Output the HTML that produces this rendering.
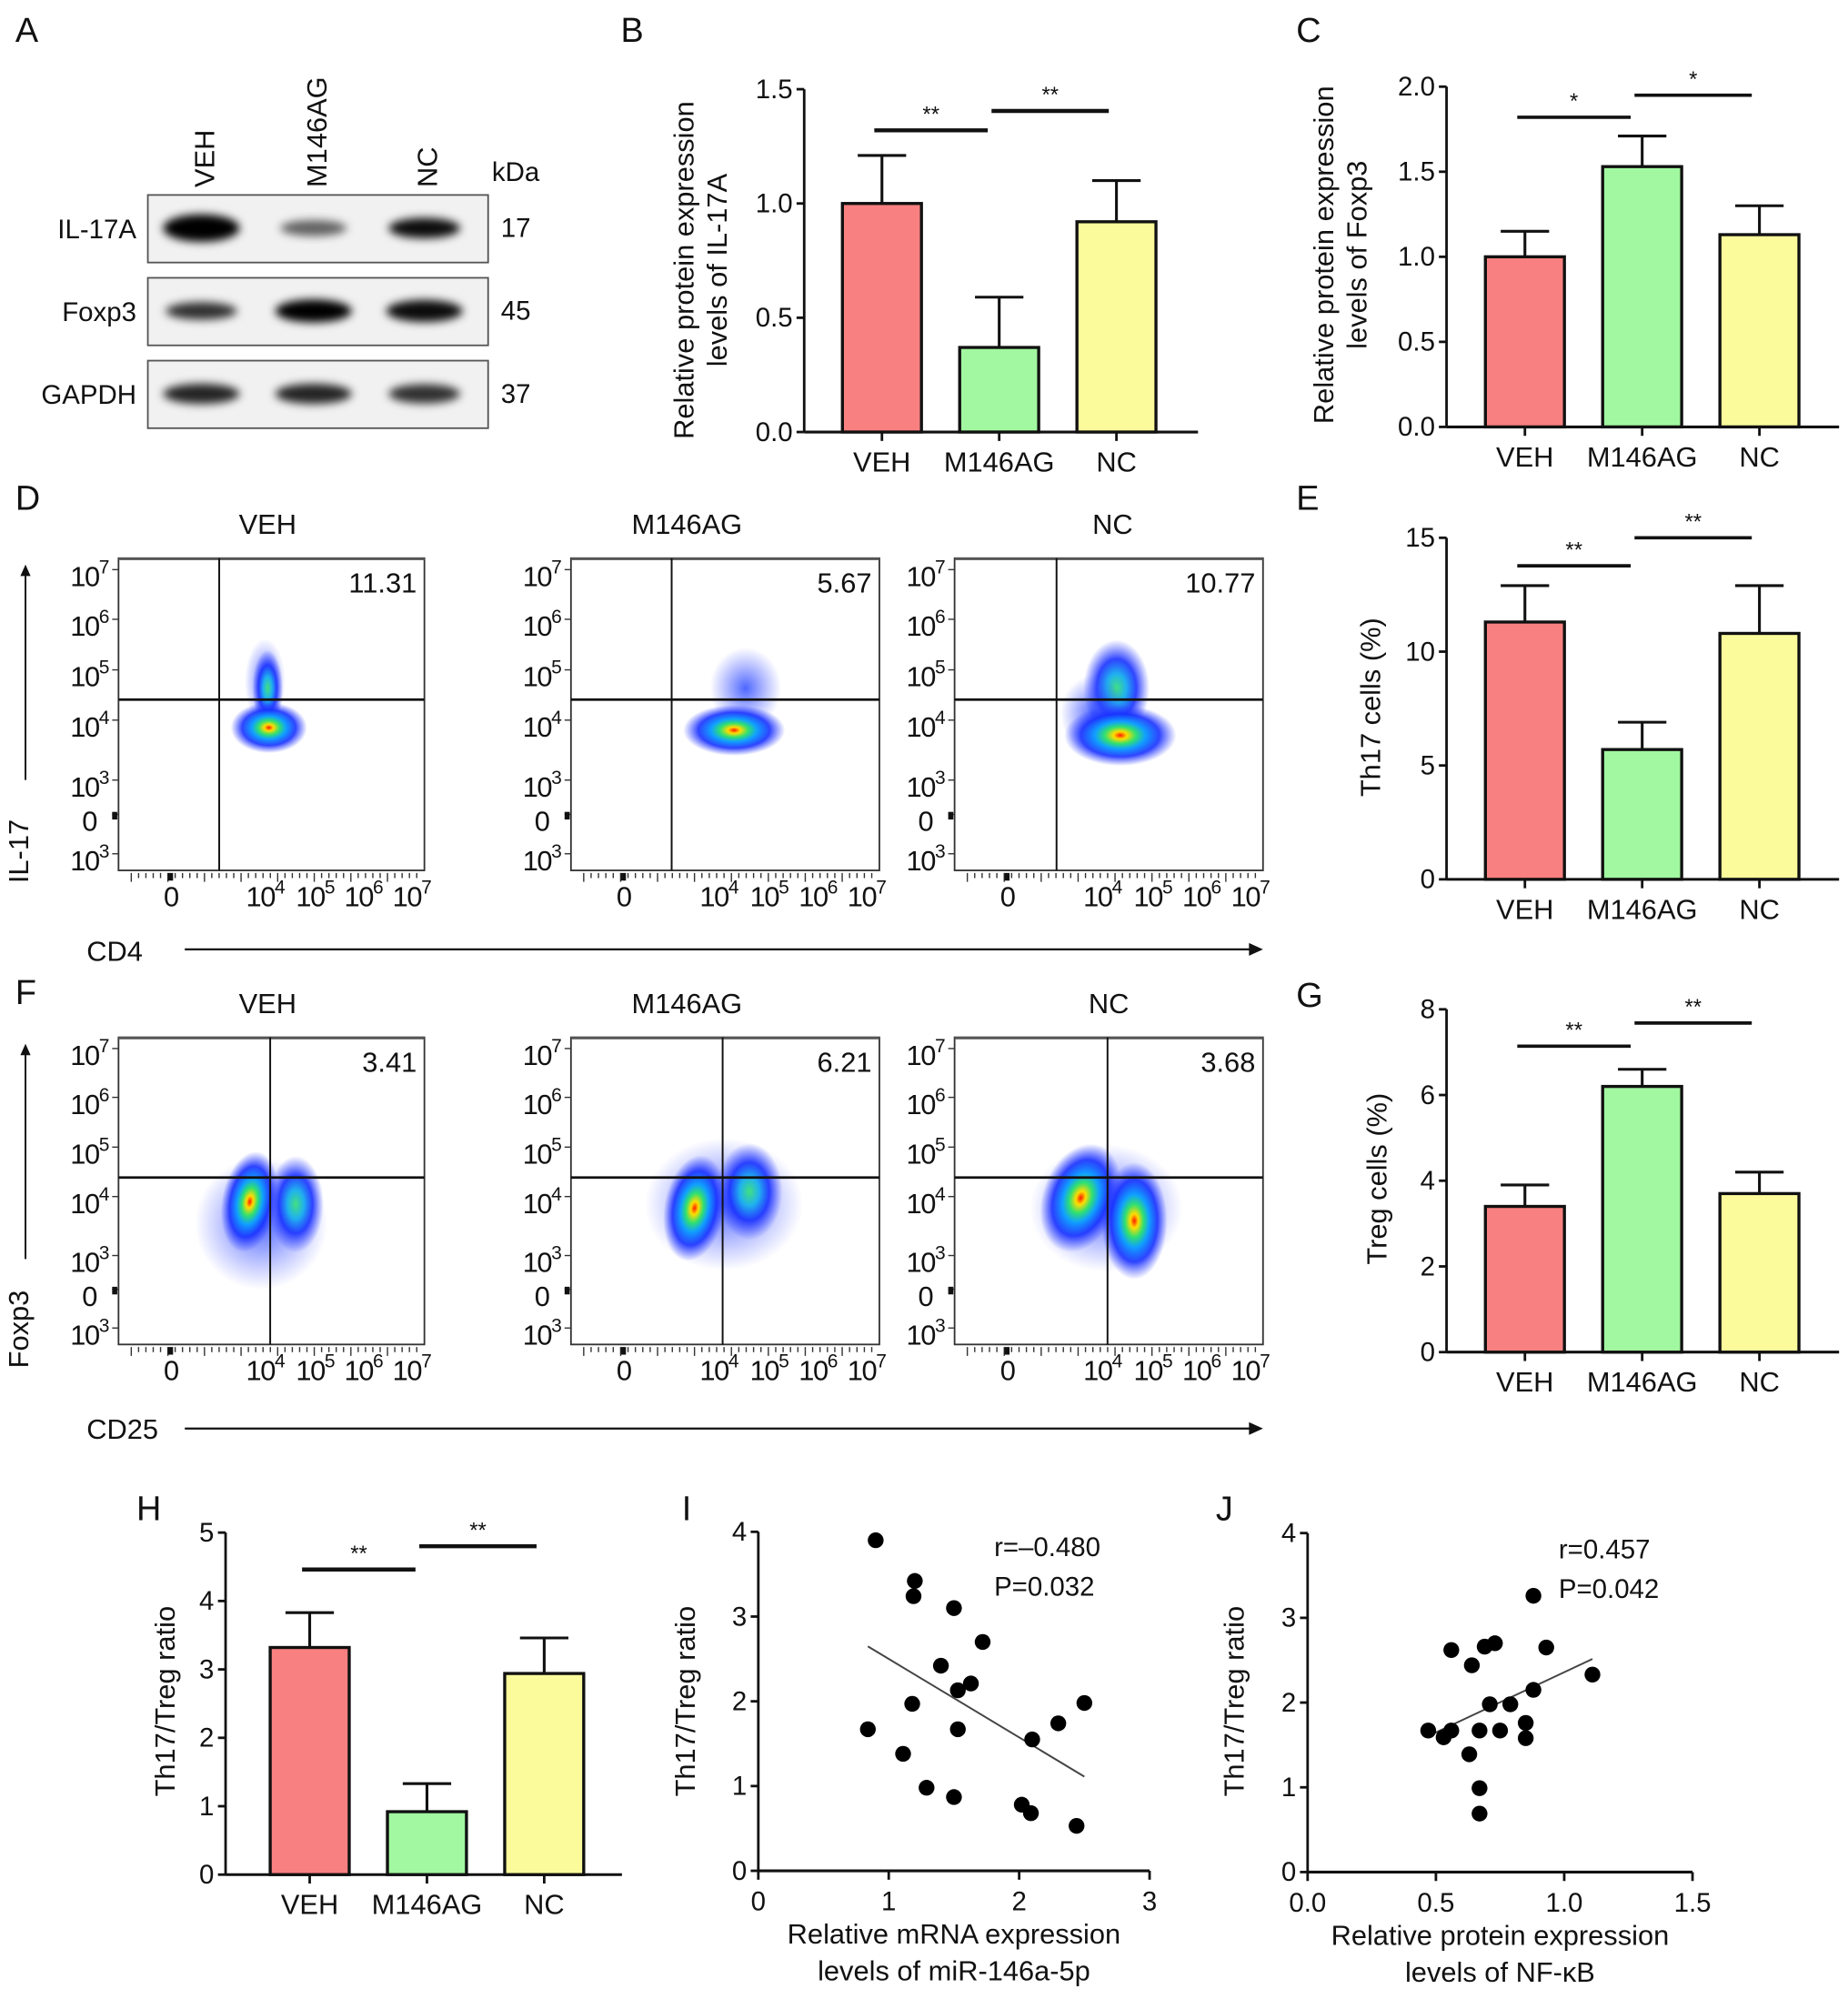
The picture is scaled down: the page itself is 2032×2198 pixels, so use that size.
<!DOCTYPE html>
<html><head><meta charset="utf-8">
<style>
html,body{margin:0;padding:0;background:#fff;}
svg{display:block;}
text{font-family:"Liberation Sans",Arial,sans-serif;fill:#111;}
</style></head>
<body>
<svg id="fig" xmlns="http://www.w3.org/2000/svg" width="2032" height="2198" viewBox="0 0 1450 1568.6" preserveAspectRatio="none">
<defs>
<radialGradient id="densR" cx="50%" cy="50%" r="50%">
<stop offset="0" stop-color="#ff1a00"/><stop offset="0.12" stop-color="#ffdd00"/><stop offset="0.28" stop-color="#30e070"/><stop offset="0.45" stop-color="#10a0ff"/><stop offset="0.7" stop-color="#1830ff" stop-opacity="0.9"/><stop offset="1" stop-color="#3040ff" stop-opacity="0"/>
</radialGradient>
<radialGradient id="densG" cx="50%" cy="50%" r="50%">
<stop offset="0" stop-color="#40e080"/><stop offset="0.3" stop-color="#20b0f0"/><stop offset="0.6" stop-color="#1830ff" stop-opacity="0.9"/><stop offset="1" stop-color="#3040ff" stop-opacity="0"/>
</radialGradient>
<radialGradient id="densB" cx="50%" cy="50%" r="50%">
<stop offset="0" stop-color="#2040ff" stop-opacity="0.8"/><stop offset="1" stop-color="#4050ff" stop-opacity="0"/>
</radialGradient>
<filter id="blur" x="-50%" y="-50%" width="200%" height="200%"><feGaussianBlur stdDeviation="3.5"/></filter>
</defs>
<g id="root"></g>
</svg>
<script>
// ---------------- data ----------------
var groups = ["VEH","M146AG","NC"];
var bValues = [1.0, 0.37, 0.92];
var bErrors = [1.21, 0.59, 1.10];
var cValues = [1.0, 1.53, 1.13];
var cErrors = [1.15, 1.71, 1.30];
var eValues = [11.3, 5.7, 10.8];
var eErrors = [12.9, 6.9, 12.9];
var gValues = [3.4, 6.2, 3.7];
var gErrors = [3.9, 6.6, 4.2];
var hValues = [3.32, 0.92, 2.94];
var hErrors = [3.83, 1.33, 3.46];
var bTicks = ["0.0","0.5","1.0","1.5"];
var cTicks = ["0.0","0.5","1.0","1.5","2.0"];
var eTicks = ["0","5","10","15"];
var gTicks = ["0","2","4","6","8"];
var hTicks = ["0","1","2","3","4","5"];
var iX = [0.9,1.2,1.19,1.5,1.72,1.40,1.63,1.53,1.18,2.5,0.84,1.53,2.30,2.10,1.11,1.29,1.50,2.02,2.09,2.44];
var iY = [3.9,3.42,3.24,3.1,2.7,2.42,2.21,2.13,1.97,1.98,1.67,1.67,1.74,1.55,1.38,0.98,0.87,0.78,0.68,0.53];
var jX = [0.88,0.73,0.69,0.56,0.93,0.64,1.11,0.88,0.71,0.79,0.47,0.56,0.67,0.75,0.85,0.85,0.53,0.63,0.67,0.67];
var jY = [3.26,2.70,2.66,2.62,2.65,2.44,2.33,2.15,1.98,1.98,1.67,1.67,1.67,1.67,1.76,1.58,1.59,1.39,0.99,0.69];
var iTicksX = ["0","1","2","3"];
var jTicksX = ["0.0","0.5","1.0","1.5"];
var corrTicksY = ["0","1","2","3","4"];
var th17Pct = ["11.31","5.67","10.77"];
var tregPct = ["3.41","6.21","3.68"];

// ---------------- helpers ----------------
var NS="http://www.w3.org/2000/svg";
var root=document.getElementById('root');
function el(tag, attrs, parent, txt){
  var e=document.createElementNS(NS,tag);
  for(var k in attrs) e.setAttribute(k, attrs[k]);
  if(txt!==undefined) e.textContent=txt;
  (parent||root).appendChild(e);
  return e;
}
function grp(name, parent){
  var g=el('g',{},parent);
  
  
  return g;
}
function txt(s,x,y,size,anchor,parent,name){
  var t=el('text',{x:x,y:y,'font-size':size,'text-anchor':anchor||'start'},parent,s);
  
  
  return t;
}
function rtxt(s,cx,cy,size,parent,name){
  var t=el('text',{x:0,y:0,'font-size':size,'text-anchor':'middle',transform:'translate('+cx+','+cy+') rotate(-90)'},parent,s);
  
  
  return t;
}

var letters=[["A",12,33],["B",487,33],["C",1017,33],["D",12,400],["E",1017,400],["F",12,788],["G",1017,790],["H",107,1193],["I",535,1193],["J",954,1193]];
letters.forEach(function(l){ txt(l[0],l[1],l[2],27,'start',root,'panel-label-'+l[0].toLowerCase()); });

// ---------------- Panel A: western blot ----------------
(function(){
  var g=grp('western-blot');
  var lanes=[160,248,335];
  groups.forEach(function(n,i){
    var t=el('text',{x:0,y:0,'font-size':22,transform:'translate('+(lanes[i]+8)+',147) rotate(-90)'},g,n);
    
    
  });
  txt('kDa',386,142,21,'start',g,'kda-label');
  var rows=[["IL-17A",153,"17",[[1,1.25,30],[0.6,0.6,26],[0.95,0.85,28]]],["Foxp3",218,"45",[[0.8,0.7,28],[1,1.0,30],[0.95,0.95,30]]],["GAPDH",283,"37",[[0.85,0.85,30],[0.85,0.85,30],[0.8,0.8,28]]]];
  rows.forEach(function(r){
    var rg=grp('blot-row-'+r[0].toLowerCase(),g);
    el('rect',{x:116,y:r[1],width:267,height:53,fill:'#f1f1f1',stroke:'#555','stroke-width':1.3},rg);
    txt(r[0],107,r[1]+34,21,'end',rg,'protein-label');
    txt(r[2],393,r[1]+33,21,'start',rg,'kda-value');
    r[3].forEach(function(b,i){
      var e=el('ellipse',{cx:lanes[i]-2,cy:r[1]+26,rx:b[2],ry:7*b[1]+2,fill:'#000','fill-opacity':b[0],filter:'url(#blur)'},rg);
      
      
    });
  });
})();

// ---------------- bar charts ----------------
function barChart(o){
  var g=grp(o.name);
  var colors=['#f98080','#a2f8a0','#fbfb9c'];
  function ys(v){ return o.y0 - (v-o.min)/(o.max-o.min)*(o.y0-o.y1); }
  var n=o.ticks.length;
  el('line',{x1:o.ax,y1:o.y1,x2:o.ax,y2:o.y0,stroke:'#111','stroke-width':2},g);
  el('line',{x1:o.ax,y1:o.y0,x2:o.xEnd,y2:o.y0,stroke:'#111','stroke-width':2.2},g);
  o.ticks.forEach(function(t,i){
    var v=o.min+(o.max-o.min)*i/(n-1), y=ys(v);
    el('line',{x1:o.ax-6,y1:y,x2:o.ax,y2:y,stroke:'#111','stroke-width':2},g);
    txt(t,o.ax-9,y+7,21,'end',g,'y-tick-label');
  });
  groups.forEach(function(name,i){
    var cx=o.ax+o.first+o.step*i, w=62;
    var b=el('rect',{x:cx-w/2,y:ys(o.values[i]),width:w,height:o.y0-ys(o.values[i]),fill:colors[i],stroke:'#111','stroke-width':2.4},g);
    
    
    var eb=el('path',{d:'M'+cx+','+ys(o.values[i])+'V'+ys(o.errors[i])+'M'+(cx-19)+','+ys(o.errors[i])+'H'+(cx+19),stroke:'#111','stroke-width':2.2,fill:'none'},g);
    
    
    el('line',{x1:cx,y1:o.y0,x2:cx,y2:o.y0+7,stroke:'#111','stroke-width':2},g);
    txt(name,cx,o.y0+31,22,'middle',g,'x-tick-label');
  });
  o.sig.forEach(function(s){
    var xa=o.ax+o.first+o.step*s[0]-6, xb=o.ax+o.first+o.step*s[1]-6+ (s[0]==0?-3:0);
    var y=ys(s[2]);
    var l=el('line',{x1:xa,y1:y,x2:xb,y2:y,stroke:'#111','stroke-width':o.sigW},g);
    
    
    txt(s[3],(xa+xb)/2,y-7,17,'middle',g,'significance-stars');
  });
  if(o.title.length==2){ rtxt(o.title[0],o.tx,o.tcy,22,g); rtxt(o.title[1],o.tx+26,o.tcy,22,g); }
  else rtxt(o.title[0],o.tx,o.tcy,22,g);
}
barChart({name:'chart-b-il17a',ax:631,xEnd:940,first:61,step:92,y0:339,y1:70,min:0,max:1.5,ticks:bTicks,values:bValues,errors:bErrors,sig:[[0,1,1.32,'**'],[1,2,1.405,'**']],sigW:3.2,title:['Relative protein expression','levels of IL-17A'],tx:544,tcy:212});
barChart({name:'chart-c-foxp3',ax:1135,xEnd:1443,first:61.5,step:92,y0:335,y1:68,min:0,max:2,ticks:cTicks,values:cValues,errors:cErrors,sig:[[0,1,1.82,'*'],[1,2,1.95,'*']],sigW:2.6,title:['Relative protein expression','levels of Foxp3'],tx:1046,tcy:200});
barChart({name:'chart-e-th17',ax:1135,xEnd:1443,first:61.5,step:92,y0:690,y1:422,min:0,max:15,ticks:eTicks,values:eValues,errors:eErrors,sig:[[0,1,13.77,'**'],[1,2,15,'**']],sigW:2.6,title:['Th17 cells (%)'],tx:1083,tcy:555});
barChart({name:'chart-g-treg',ax:1135,xEnd:1443,first:61.5,step:92,y0:1061,y1:792,min:0,max:8,ticks:gTicks,values:gValues,errors:gErrors,sig:[[0,1,7.14,'**'],[1,2,7.68,'**']],sigW:2.6,title:['Treg cells (%)'],tx:1088,tcy:925});
barChart({name:'chart-h-ratio',ax:177,xEnd:488,first:66,step:92,y0:1471,y1:1202.6,min:0,max:5,ticks:hTicks,values:hValues,errors:hErrors,sig:[[0,1,4.46,'**'],[1,2,4.8,'**']],sigW:3.2,title:['Th17/Treg ratio'],tx:137,tcy:1335});

// ---------------- flow cytometry ----------------
function sup(parent,x,y,base,exp,name){
  var t=el('text',{x:x,y:y,'font-size':22,'text-anchor':'middle','letter-spacing':'-1'},parent);
  
  
  el('tspan',{},t,base);
  if(exp){ el('tspan',{'font-size':15,dy:-10},t,exp); }
  return t;
}
function flowPlot(o){
  var g=grp(o.name);
  var x=o.x,y=o.y,w=o.w,h=o.h;
  o.blobs.forEach(function(b){
    var e=el('ellipse',{cx:b[0],cy:b[1],rx:b[2],ry:b[3],fill:'url(#'+b[4]+')',transform:'rotate('+(b[5]||0)+','+b[0]+','+b[1]+')'},g);
    
    
  });
  el('rect',{x:x,y:y,width:w,height:h,fill:'none',stroke:'#333','stroke-width':1.3},g);
  el('line',{x1:x,y1:y+0.5,x2:x+w,y2:y+0.5,stroke:'#555','stroke-width':2},g);
  el('line',{x1:o.gx,y1:y,x2:o.gx,y2:y+h,stroke:'#111','stroke-width':1.4},g);
  el('line',{x1:x,y1:o.gy,x2:x+w,y2:o.gy,stroke:'#111','stroke-width':2},g);
  txt(o.title,x+w/2+(o.tdx||0),y-19,22,'middle',g,'plot-title');
  txt(o.pct,x+w-6,y+27,22,'end',g,'quadrant-percentage');
  var yf=[[0.053,'10','7'],[0.212,'10','6'],[0.374,'10','5'],[0.535,'10','4'],[0.727,'10','3'],[0.837,'0',''],[0.963,'10','3']];
  yf.forEach(function(t){
    var yy=y+t[0]*h;
    el('line',{x1:x-5,y1:yy-4,x2:x,y2:yy-4,stroke:'#333','stroke-width':1},g);
    sup(g,x-23,yy+9,t[1],t[2],'y-tick-label');
  });
  el('rect',{x:x-5,y:y+0.837*h-6,width:4,height:6,fill:'#111'},g);
  var xf=[[0.171,'0',''],[0.479,'10','4'],[0.642,'10','5'],[0.8,'10','6'],[0.958,'10','7']];
  xf.forEach(function(t){ sup(g,x+t[0]*w,y+h+28,t[1],t[2],'x-tick-label'); });
  var d='';
  for(var k=0;k<40;k++){ var xx=x+10+k*(w-16)/39; d+='M'+xx+','+(y+h+2)+'v'+(k%5==0?7:4); }
  el('path',{d:d,stroke:'#333','stroke-width':1},g);
  el('rect',{x:x+0.17*w-2,y:y+h+2,width:4,height:6,fill:'#111'},g);
}
flowPlot({name:'flow-d-veh',x:93,y:438,w:240,h:245,gx:172,gy:549,title:'VEH',pct:th17Pct[0],tdx:-3,
  blobs:[[208,535,16,34,'densB'],[210,540,12,30,'densG'],[211,571,30,20,'densR']]});
flowPlot({name:'flow-d-m146ag',x:448,y:438,w:242,h:245,gx:527,gy:549,title:'M146AG',pct:th17Pct[1],tdx:-30,
  blobs:[[585,540,28,32,'densB'],[576,573,40,20,'densR']]});
flowPlot({name:'flow-d-nc',x:749,y:438,w:242,h:245,gx:829,gy:549,title:'NC',pct:th17Pct[2],tdx:3,
  blobs:[[876,540,26,38,'densG'],[858,560,26,30,'densB'],[879,577,44,24,'densR']]});
flowPlot({name:'flow-f-veh',x:93,y:814,w:240,h:241,gx:212,gy:924,title:'VEH',pct:tregPct[0],tdx:-3,
  blobs:[[205,960,52,52,'densB'],[196,943,22,40,'densR',10],[232,945,22,38,'densG']]});
flowPlot({name:'flow-f-m146ag',x:448,y:814,w:242,h:241,gx:567,gy:924,title:'M146AG',pct:tregPct[1],tdx:-30,
  blobs:[[568,945,62,52,'densB'],[545,948,24,42,'densR',10],[588,935,26,38,'densG']]});
flowPlot({name:'flow-f-nc',x:749,y:814,w:242,h:241,gx:869,gy:924,title:'NC',pct:tregPct[2],tdx:0,
  blobs:[[868,948,60,50,'densB'],[848,940,30,44,'densR',20],[890,958,26,46,'densR']]});

(function(){
  var g=grp('flow-axis-titles');
  el('path',{d:'M20,612V448',stroke:'#111','stroke-width':1.4},g);
  el('path',{d:'M16,452L20,443L24,452Z',fill:'#111'},g);
  rtxt('IL-17',22,668,22,g,'y-axis-title-il17');
  txt('CD4',68,754,22,'start',g,'x-axis-title-cd4');
  el('path',{d:'M145,745H982',stroke:'#111','stroke-width':1.6},g);
  el('path',{d:'M980,740L991,745L980,750Z',fill:'#111'},g);
  el('path',{d:'M20,988V824',stroke:'#111','stroke-width':1.4},g);
  el('path',{d:'M16,828L20,819L24,828Z',fill:'#111'},g);
  rtxt('Foxp3',22,1043,22,g,'y-axis-title-foxp3');
  txt('CD25',68,1129,22,'start',g,'x-axis-title-cd25');
  el('path',{d:'M145,1121H982',stroke:'#111','stroke-width':1.6},g);
  el('path',{d:'M980,1116L991,1121L980,1126Z',fill:'#111'},g);
})();

// ---------------- scatter plots ----------------
function scatter(o){
  var g=grp(o.name);
  function xs(v){ return o.ax+(v-o.xmin)/(o.xmax-o.xmin)*(o.xr-o.ax); }
  function ys(v){ return o.y0-(v-o.ymin)/(o.ymax-o.ymin)*(o.y0-o.y1); }
  el('line',{x1:o.ax,y1:o.y1,x2:o.ax,y2:o.y0,stroke:'#111','stroke-width':2},g);
  el('line',{x1:o.ax,y1:o.y0,x2:o.xr,y2:o.y0,stroke:'#111','stroke-width':2.2},g);
  o.yt.forEach(function(t,i){
    var y=ys(o.ymin+(o.ymax-o.ymin)*i/(o.yt.length-1));
    el('line',{x1:o.ax-6,y1:y,x2:o.ax,y2:y,stroke:'#111','stroke-width':2},g);
    txt(t,o.ax-9,y+7,21,'end',g,'y-tick-label');
  });
  o.xt.forEach(function(t,i){
    var x=xs(o.xmin+(o.xmax-o.xmin)*i/(o.xt.length-1));
    el('line',{x1:x,y1:o.y0,x2:x,y2:o.y0+7,stroke:'#111','stroke-width':2},g);
    txt(t,x,o.y0+31,21,'middle',g,'x-tick-label');
  });
  var n=o.X.length,mx=0,my=0;
  for(var i=0;i<n;i++){mx+=o.X[i];my+=o.Y[i];} mx/=n;my/=n;
  var sxy=0,sxx=0,minx=1e9,maxx=-1e9;
  for(i=0;i<n;i++){sxy+=(o.X[i]-mx)*(o.Y[i]-my);sxx+=(o.X[i]-mx)*(o.X[i]-mx);minx=Math.min(minx,o.X[i]);maxx=Math.max(maxx,o.X[i]);}
  var sl=sxy/sxx, ic=my-sl*mx;
  var rl=el('line',{x1:xs(minx),y1:ys(ic+sl*minx),x2:xs(maxx),y2:ys(ic+sl*maxx),stroke:'#444','stroke-width':1.4},g);
  
  
  for(i=0;i<n;i++){
    var c=el('circle',{cx:xs(o.X[i]),cy:ys(o.Y[i]),r:6.2,fill:'#000'},g);
    
    
  }
  txt(o.r,o.tx,o.ty,21,'start',g,'correlation-r');
  txt(o.p,o.tx,o.ty+31,21,'start',g,'correlation-p');
  rtxt('Th17/Treg ratio',o.ax-50,1335,22,g,'y-axis-title');
  txt(o.xl[0],(o.ax+o.xr)/2,o.y0+57,22,'middle',g,'x-axis-title');
  txt(o.xl[1],(o.ax+o.xr)/2,o.y0+86,22,'middle',g,'x-axis-title');
}
scatter({name:'chart-i-mir146a',ax:595,xr:902,y0:1468,y1:1202,xmin:0,xmax:3,ymin:0,ymax:4,X:iX,Y:iY,xt:iTicksX,yt:corrTicksY,r:'r=\u20130.480',p:'P=0.032',tx:780,ty:1221,xl:['Relative mRNA expression','levels of miR-146a-5p']});
scatter({name:'chart-j-nfkb',ax:1026,xr:1328,y0:1469,y1:1203,xmin:0,xmax:1.5,ymin:0,ymax:4,X:jX,Y:jY,xt:jTicksX,yt:corrTicksY,r:'r=0.457',p:'P=0.042',tx:1223,ty:1223,xl:['Relative protein expression','levels of NF-\u03BAB']});
</script>
</body></html>
